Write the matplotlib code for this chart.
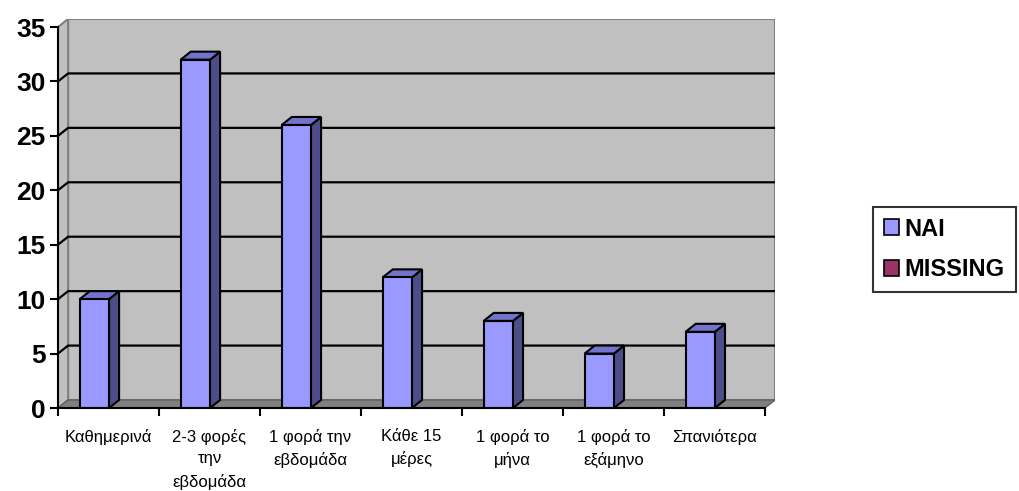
import matplotlib.pyplot as plt
from matplotlib.patches import Polygon, Patch

# ======== Dados =========
categorias = ["Καθημερινά", "2-3 φορές\nτην\nεβδομάδα", "1 φορά την\nεβδομάδα",
              "Κάθε 15\nμέρες", "1 φορά το\nμήνα", "1 φορά το\nεξάμηνο", "Σπανιότερα"]
nai = [10, 32, 26, 12, 8, 5, 7]
series_labels = ["NAI", "MISSING"]
y_ticks = [0, 5, 10, 15, 20, 25, 30, 35]

plt.rcParams['font.family'] = ['Liberation Sans', 'DejaVu Sans']

# cores no estilo do Excel
cor_frente = '#9999FF'
cor_lado = '#4D4D8A'
cor_topo = '#7373CC'
cor_missing = '#993366'
cor_parede = '#C0C0C0'
cor_chao = '#808080'

# profundidade 3D (em unidades de dados)
dx = 0.1
dy = 0.735
ymax = 35
n = len(categorias)

fig = plt.figure(figsize=(10.19, 4.91), dpi=100)
W, H = 1019, 491
ax = fig.add_axes([58 / W, (H - 408) / H, 717 / W, 389 / H])
ax.set_xlim(-0.5, n - 0.5 + dx)
ax.set_ylim(0, ymax + dy)

x0, x1 = -0.5, n - 0.5

# parede do fundo, parede lateral e chão
ax.add_patch(Polygon([(x0 + dx, dy), (x1 + dx, dy), (x1 + dx, ymax + dy), (x0 + dx, ymax + dy)],
                     closed=True, fc=cor_parede, ec=cor_chao, lw=1.5, zorder=0))
ax.add_patch(Polygon([(x0, 0), (x0 + dx, dy), (x0 + dx, ymax + dy), (x0, ymax)],
                     closed=True, fc=cor_parede, ec=cor_chao, lw=1.5, zorder=0))
ax.add_patch(Polygon([(x0, 0), (x1, 0), (x1 + dx, dy), (x0 + dx, dy)],
                     closed=True, fc=cor_chao, ec='#606060', lw=1, zorder=1))

# linhas de grade
for v in y_ticks[1:-1]:
    ax.plot([x0, x0 + dx, x1 + dx], [v, v + dy, v + dy], color='black', lw=1.6, zorder=1,
            solid_capstyle='butt')

# barras 3D
larg = 0.29
desloc = -0.285
for i, v in enumerate(nai):
    esq = i + desloc
    dir_ = esq + larg
    ax.bar(esq, v, larg, align='edge', color=cor_frente, edgecolor='black', lw=1.5, zorder=3)
    ax.add_patch(Polygon([(dir_, 0), (dir_ + dx, dy), (dir_ + dx, v + dy), (dir_, v)],
                         closed=True, fc=cor_lado, ec='black', lw=1.5, zorder=2))
    ax.add_patch(Polygon([(esq, v), (dir_, v), (dir_ + dx, v + dy), (esq + dx, v + dy)],
                         closed=True, fc=cor_topo, ec='black', lw=1.5, zorder=2))

# eixos
for s in ['top', 'right']:
    ax.spines[s].set_visible(False)
ax.spines['left'].set_bounds(0, ymax)
ax.spines['bottom'].set_bounds(x0, x1)
for s in ['left', 'bottom']:
    ax.spines[s].set_linewidth(1.5)
    ax.spines[s].set_zorder(4)

ax.set_yticks(y_ticks)
ax.set_yticklabels([str(t) for t in y_ticks], fontsize=19, fontweight='bold')
ax.tick_params(axis='y', direction='out', length=6, width=1.5, pad=3)

ax.set_xticks([i - 0.5 for i in range(n + 1)])
ax.set_xticklabels([])
ax.tick_params(axis='x', which='major', direction='out', length=6, width=1.5)
ax.set_xticks(range(n), minor=True)
ax.set_xticklabels(categorias, minor=True, fontsize=12, linespacing=1.55, va='top')
ax.tick_params(axis='x', which='minor', length=0, pad=15)

# legenda
handles = [Patch(fc=cor_frente, ec='black', lw=1.2), Patch(fc=cor_missing, ec='black', lw=1.2)]
leg = fig.legend(handles, series_labels, loc='upper left',
                 bbox_to_anchor=(873 / W, 1 - 207 / H), frameon=True, fancybox=False,
                 prop={'size': 17, 'weight': 'bold'}, handlelength=0.65, handleheight=0.65,
                 handletextpad=0.25, borderpad=0.45, labelspacing=0.75, borderaxespad=0)
leg.get_frame().set_edgecolor('black')
leg.get_frame().set_linewidth(1.5)

fig.savefig('out.png', dpi=100)
